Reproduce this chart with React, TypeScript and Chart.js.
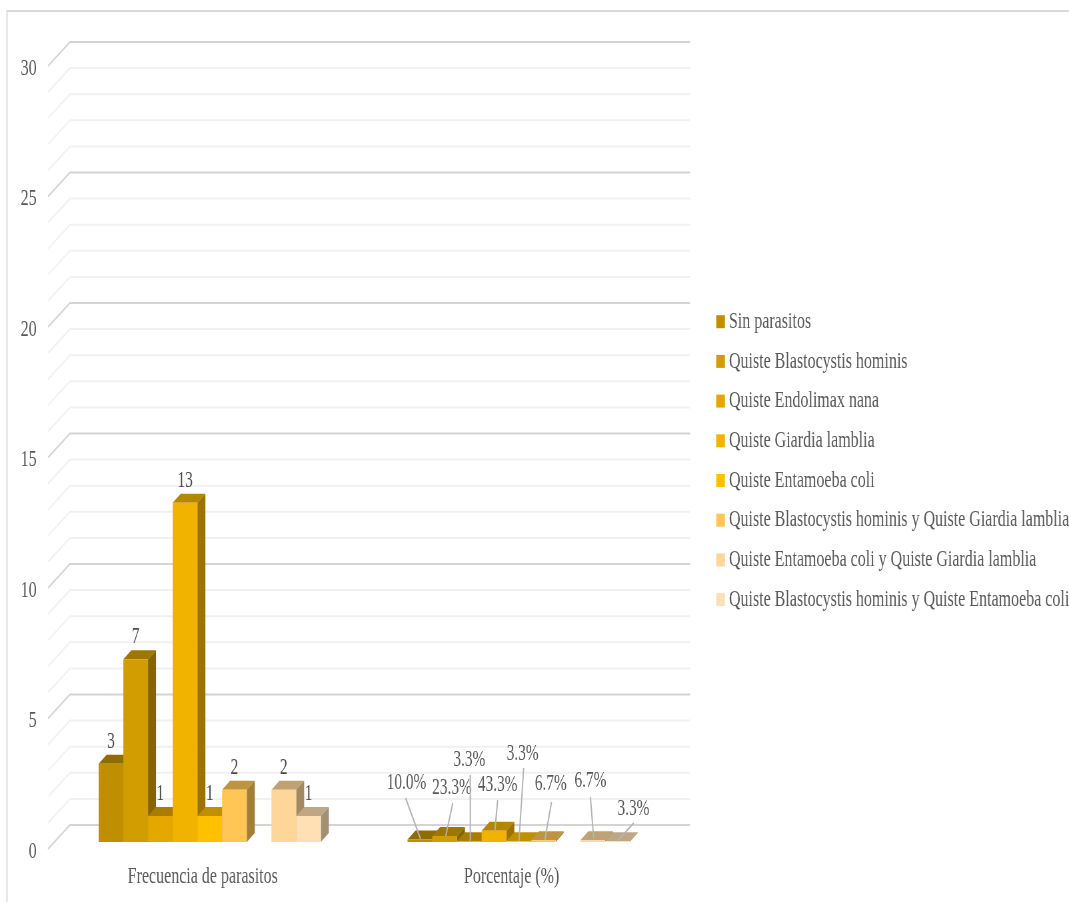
import { useEffect, useRef } from "react";
import { Chart, registerables } from "chart.js";

Chart.register(...registerables);

// Data
const categories = ["Frecuencia de parasitos", "Porcentaje (%)"];
const seriesNames = [
  "Sin parasitos",
  "Quiste Blastocystis hominis",
  "Quiste Endolimax nana",
  "Quiste Giardia lamblia",
  "Quiste Entamoeba coli",
  "Quiste Blastocystis hominis y Quiste Giardia lamblia",
  "", // unnamed series with no values: leaves the empty slot in each group
  "Quiste Entamoeba coli y Quiste Giardia lamblia",
  "Quiste Blastocystis hominis y Quiste Entamoeba coli",
];
const frequencies = [3, 7, 1, 13, 1, 2, null, 2, 1];
const percentages = [0.1, 0.233, 0.033, 0.433, 0.033, 0.067, null, 0.067, 0.033];
const seriesColors = [
  "#BF8F00", "#D29D00", "#E3A700", "#F1B300", "#FFC000",
  "#FFC555", "#FFFFFF", "#FFD699", "#FFDFB3",
];

// The text is set condensed: the canvas is drawn wide and squeezed horizontally.
const STRETCH = 1.5;
const VIEW_W = 1069;
const VIEW_H = 902;
const CANVAS_W = Math.round(VIEW_W * STRETCH);

const AREA_LEFT = 55.3 * STRETCH;
const AREA_RIGHT = 673.3 * STRETCH;
const AREA_TOP = 59;
const AREA_BOTTOM = 842;

// Depth of the box: front edge of the floor, back wall, and the depth of a bar.
const FRONT_DX = -7.3 * STRETCH;
const FRONT_DY = 7;
const BACK_DX = 14.7 * STRETCH;
const BACK_DY = -17;
const BAR_DX = 8 * STRETCH;
const BAR_DY = -9;

const FONT = "'Liberation Serif', 'Times New Roman', serif";
const TEXT_COLOR = "#595959";
const VALUE_COLOR = "#4a4a4a";

// Placement of the percentage labels around their bars: label centre, leader start and end.
const percentCallouts: ([number, number, number, number, number, number] | null)[] = [
  [-13.3, -59, -14.3, -44, 0.7, -3],
  [7.5, -54, 8.2, -39, 1.2, -6],
  [0, -82, 1, -67, 1, 0],
  [3.7, -57, 3.7, -42, 1, -12],
  [4, -88, 5, -74, 0.3, -1],
  [7.5, -58, 8.2, -40, 1.5, -2],
  null,
  [-2.3, -61, -2.3, -45, 1, -3],
  [16, -33, 16.3, -19, 0, -1],
];

function shade(hex: string, factor: number) {
  const n = parseInt(hex.slice(1), 16);
  const c = [(n >> 16) & 255, (n >> 8) & 255, n & 255].map((v) => Math.round(v * factor));
  return `rgb(${c[0]},${c[1]},${c[2]})`;
}

const boxPlugin = {
  id: "box3d",
  // Pin the legend to the right of the plot.
  afterLayout(chart: any) {
    const legend = chart.legend;
    legend.left = 710 * STRETCH;
    legend.right = CANVAS_W;
    legend.top = 294;
    legend.bottom = 294 + 400;
    legend.width = legend.right - legend.left;
    legend.height = 400;
  },
  // Bars are painted left to right below, so each one overlaps its neighbour's side.
  beforeDatasetDraw() {
    return false;
  },
  beforeDatasetsDraw(chart: any) {
    const { ctx, scales } = chart;
    const y = scales.y;
    ctx.save();

    // Outer frame
    ctx.strokeStyle = "#d9d9d9";
    ctx.lineWidth = 2;
    ctx.beginPath();
    ctx.moveTo(7 * STRETCH, VIEW_H);
    ctx.lineTo(7 * STRETCH, 11);
    ctx.lineTo(CANVAS_W, 11);
    ctx.stroke();

    // Side wall and back wall gridlines
    ctx.lineWidth = 2;
    for (const tick of y.ticks) {
      const py = y.getPixelForValue(tick.value);
      ctx.strokeStyle = tick.value % 5 === 0 ? "#d4d4d4" : "#f1f1f1";
      ctx.beginPath();
      ctx.moveTo(AREA_LEFT + FRONT_DX, py + FRONT_DY);
      ctx.lineTo(AREA_LEFT + BACK_DX, py + BACK_DY);
      ctx.lineTo(AREA_RIGHT + 17 * STRETCH, py + BACK_DY);
      ctx.stroke();
    }

    // Bars: top and side faces, then the library's own front face
    chart.data.datasets.forEach((ds: any, i: number) => {
      const meta = chart.getDatasetMeta(i);
      meta.data.forEach((bar: any, j: number) => {
        if (ds.data[j] === null) return;
        const { x, y: top, base, width } = bar.getProps(["x", "y", "base", "width"], true);
        const l = x - width / 2;
        const r = x + width / 2;
        ctx.fillStyle = shade(seriesColors[i], 0.75);
        ctx.beginPath();
        ctx.moveTo(l, top);
        ctx.lineTo(l + BAR_DX, top + BAR_DY);
        ctx.lineTo(r + BAR_DX, top + BAR_DY);
        ctx.lineTo(r, top);
        ctx.closePath();
        ctx.fill();
        ctx.fillStyle = shade(seriesColors[i], 0.64);
        ctx.beginPath();
        ctx.moveTo(r, top);
        ctx.lineTo(r + BAR_DX, top + BAR_DY);
        ctx.lineTo(r + BAR_DX, base + BAR_DY);
        ctx.lineTo(r, base);
        ctx.closePath();
        ctx.fill();
        bar.draw(ctx, chart.chartArea);
      });
    });
    ctx.restore();
  },
  afterDatasetsDraw(chart: any) {
    const { ctx, scales } = chart;
    const zero = scales.y.getPixelForValue(0);
    ctx.save();
    ctx.textAlign = "center";
    ctx.textBaseline = "middle";
    ctx.font = `23px ${FONT}`;
    chart.data.datasets.forEach((ds: any, i: number) => {
      const meta = chart.getDatasetMeta(i);
      meta.data.forEach((bar: any, j: number) => {
        const value = ds.data[j];
        if (value === null) return;
        const { x, y: top } = bar.getProps(["x", "y"], true);
        if (j === 0) {
          ctx.fillStyle = VALUE_COLOR;
          ctx.fillText(String(value), x, top - 22);
          return;
        }
        const c = percentCallouts[i]!;
        ctx.strokeStyle = "#b3b3b3";
        ctx.lineWidth = 2;
        ctx.beginPath();
        ctx.moveTo(x + c[2] * STRETCH, zero + c[3]);
        ctx.lineTo(x + c[4] * STRETCH, zero + c[5]);
        ctx.stroke();
        ctx.fillStyle = TEXT_COLOR;
        ctx.fillText(`${(value * 100).toFixed(1)}%`, x + c[0] * STRETCH, zero + c[1]);
      });
    });
    ctx.restore();
  },
};

export default function App() {
  const ref = useRef<HTMLCanvasElement>(null);

  useEffect(() => {
    const chart = new Chart(ref.current!, {
      type: "bar",
      data: {
        labels: categories,
        datasets: seriesNames.map((label, i) => ({
          label,
          data: [frequencies[i], percentages[i]],
          backgroundColor: seriesColors[i],
          borderWidth: 0,
          categoryPercentage: 0.7194,
          barPercentage: 1,
        })),
      },
      options: {
        responsive: false,
        animation: false,
        events: [],
        layout: { padding: { top: AREA_TOP, right: CANVAS_W - AREA_RIGHT, left: 0, bottom: 0 } },
        scales: {
          x: {
            grid: { display: false },
            border: { display: false },
            afterFit: (s: any) => { s.height = VIEW_H - AREA_BOTTOM; },
            ticks: {
              color: TEXT_COLOR,
              font: { family: FONT, size: 24 },
              padding: 12,
              labelOffset: -7 * STRETCH,
              autoSkip: false,
              maxRotation: 0,
            },
          },
          y: {
            min: 0,
            max: 30,
            grid: { display: false },
            border: { display: false },
            afterFit: (s: any) => { s.width = AREA_LEFT; },
            ticks: {
              stepSize: 1,
              autoSkip: false,
              color: TEXT_COLOR,
              font: { family: FONT, size: 24 },
              padding: 20,
              labelOffset: FRONT_DY + 2.5,
              callback: (v: any) => (Number(v) % 5 === 0 ? String(v) : ""),
            },
          },
        },
        plugins: {
          tooltip: { enabled: false },
          legend: {
            position: "chartArea",
            align: "start",
            labels: {
              color: TEXT_COLOR,
              font: { family: FONT, size: 24 },
              padding: 15.7,
              // A thin box with a wide stroke keeps the swatch close to its text.
              boxWidth: 1,
              boxHeight: 1,
              generateLabels: () =>
                seriesNames
                  .map((text, i) => ({
                    text,
                    fillStyle: seriesColors[i],
                    strokeStyle: seriesColors[i],
                    lineWidth: 12,
                    datasetIndex: i,
                    fontColor: TEXT_COLOR,
                  }))
                  .filter((item) => item.text !== ""),
            },
          },
        },
      },
      plugins: [boxPlugin],
    } as any);
    return () => chart.destroy();
  }, []);

  return (
    <div
      style={{
        position: "absolute",
        left: 0,
        top: 0,
        transform: `scaleX(${VIEW_W / CANVAS_W})`,
        transformOrigin: "0 0",
      }}
    >
      <canvas ref={ref} width={CANVAS_W} height={VIEW_H} style={{ display: "block" }} />
    </div>
  );
}
